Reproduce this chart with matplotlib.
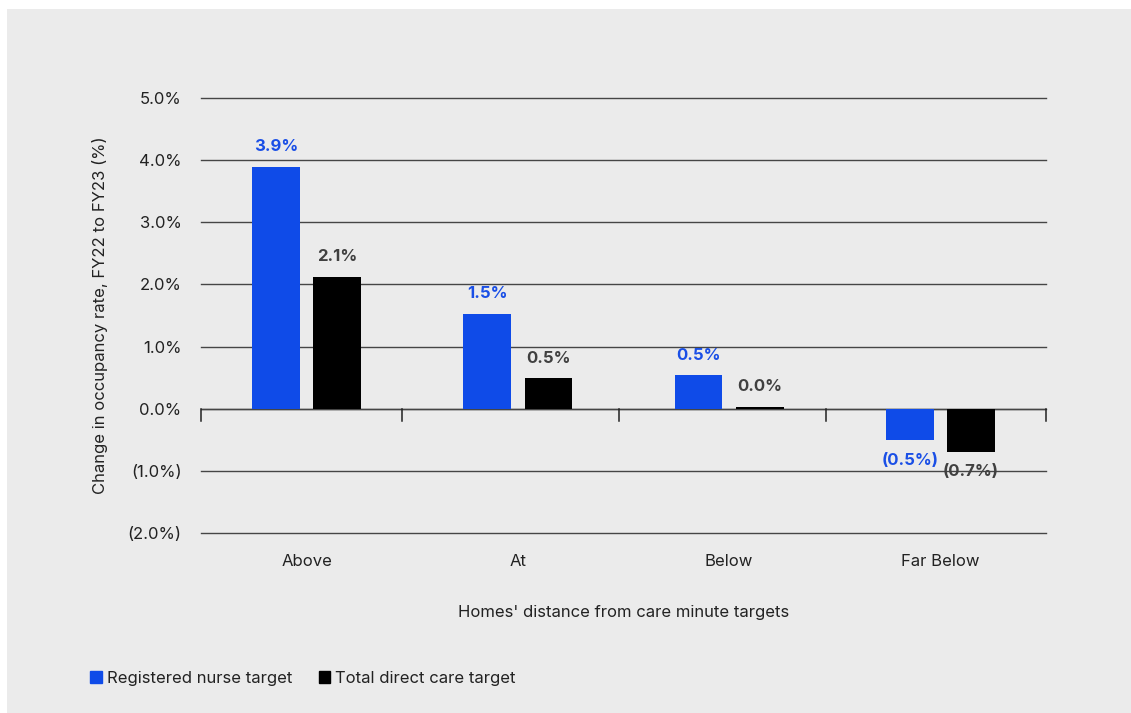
import matplotlib.pyplot as plt
from matplotlib.patches import Rectangle
import numpy as np

categories = ["Above", "At", "Below", "Far Below"]
nurse = [3.89, 1.53, 0.54, -0.51]
direct_care = [2.12, 0.49, 0.03, -0.69]
series_names = ["Registered nurse target", "Total direct care target"]
yticks = [-2, -1, 0, 1, 2, 3, 4, 5]

BLUE = "#0f4be8"
BLACK = "#000000"
BG = "#ebebeb"
GRID = "#454545"

plt.rcParams['font.family'] = ['Inter', 'DejaVu Sans']

fig = plt.figure(figsize=(11.31, 7.13), dpi=100, facecolor="white")
fig.patches.append(Rectangle((7 / 1131, 0), 1, 1 - 9 / 713, transform=fig.transFigure,
                             facecolor=BG, edgecolor="none", zorder=-10))

ax = fig.add_axes([201 / 1131, 1 - 533 / 713, 845 / 1131, 435 / 713])
ax.set_facecolor("none")

x = np.arange(len(categories))
w = 0.225
off = 0.145
b1 = ax.bar(x - off, nurse, w, color=BLUE, zorder=3)
b2 = ax.bar(x + off, direct_care, w, color=BLACK, zorder=3)


def fmt(v):
    s = "%.1f%%" % abs(v)
    return "(%s)" % s if v < 0 else s


for bars, vals, col in [(b1, nurse, "#1a4fe6"), (b2, direct_care, "#404040")]:
    for rect, v in zip(bars, vals):
        cx = rect.get_x() + rect.get_width() / 2
        if v >= 0:
            ax.annotate(fmt(v), (cx, v), xytext=(0, 9), textcoords="offset points",
                        ha="center", va="bottom", color=col, fontsize=12, fontweight="bold")
        else:
            ax.annotate(fmt(v), (cx, v), xytext=(0, -9), textcoords="offset points",
                        ha="center", va="top", color=col, fontsize=12, fontweight="bold")

ax.set_xlim(-0.5, len(categories) - 0.5)
ax.set_ylim(-2, 5)
ax.set_yticks(yticks)
ax.set_yticklabels([fmt(v) for v in yticks], fontsize=12, color="#222222")
ax.tick_params(axis="y", length=0, pad=14)
ax.yaxis.grid(True, color=GRID, linewidth=1.0, zorder=1)
ax.set_axisbelow(True)
for gl in ax.get_ygridlines():
    gl.set_clip_on(False)

# category labels sit below the plot, divider ticks hang off the zero line
ax.set_xticks(x)
ax.set_xticklabels(categories, fontsize=12, color="#222222")
ax.tick_params(axis="x", length=0, pad=15)
for s in ["top", "right", "left", "bottom"]:
    ax.spines[s].set_visible(False)
ax.axhline(0, color=GRID, linewidth=1.0, zorder=2)
for b in [-0.5, 0.45, 1.48, 2.46, 3.5]:
    ax.plot([b, b], [0, -0.19], color="#222222", linewidth=1.1, zorder=2, clip_on=False)

ax.set_ylabel("Change in occupancy rate, FY22 to FY23 (%)", fontsize=12, color="#222222",
              labelpad=14)
ax.set_xlabel("Homes' distance from care minute targets", fontsize=12, color="#222222",
              labelpad=26)

handles = [Rectangle((0, 0), 1, 1, color=BLUE), Rectangle((0, 0), 1, 1, color=BLACK)]
fig.legend(handles, series_names, loc="center left", bbox_to_anchor=(75 / 1131, 1 - 678 / 713),
           ncol=2, frameon=False, fontsize=12, handlelength=0.7, handleheight=0.7,
           handletextpad=0.3, columnspacing=1.6, labelcolor="#222222")

fig.savefig("out.png", dpi=100, facecolor=fig.get_facecolor())
